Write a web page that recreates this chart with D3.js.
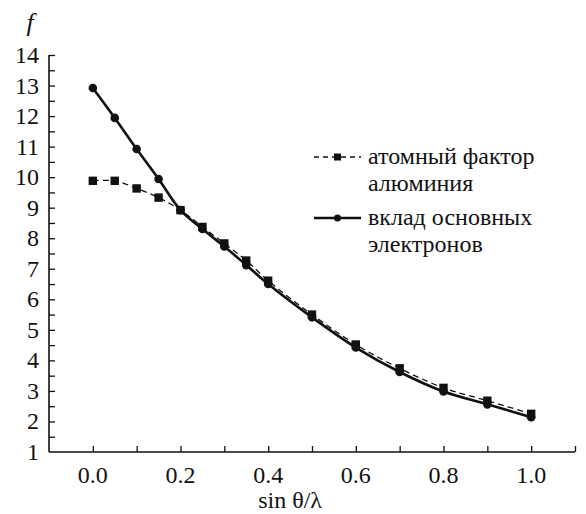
<!DOCTYPE html>
<html><head><meta charset="utf-8">
<script src="https://cdn.jsdelivr.net/npm/d3@7"></script>
<style>body{margin:0;background:#fff}svg{display:block}</style>
</head><body>
<script>
const xVals = [0, 0.05, 0.1, 0.15, 0.2, 0.25, 0.3, 0.35, 0.4, 0.5, 0.6, 0.7, 0.8, 0.9, 1.0];
const atomicFactor = [9.88, 9.88, 9.63, 9.33, 8.92, 8.37, 7.83, 7.27, 6.61, 5.50, 4.52, 3.74, 3.10, 2.68, 2.25];
const coreContribution = [12.92, 11.94, 10.92, 9.94, 8.92, 8.30, 7.73, 7.12, 6.50, 5.41, 4.42, 3.62, 2.98, 2.56, 2.14];
const xTickLabels = ["0.0", "0.2", "0.4", "0.6", "0.8", "1.0"];
const yTickLabels = ["1","2","3","4","5","6","7","8","9","10","11","12","13","14"];
const legendLabels = [["атомный фактор", "алюминия"], ["вклад основных", "электронов"]];
const xTitle = "sin θ/λ";
const yTitle = "f";

const FONT = "'Liberation Serif', 'Times New Roman', serif";
const W = 586, H = 514;
const svg = d3.select("body").append("svg").attr("width", W).attr("height", H)
  .style("font-family", FONT, "important");
const x = d3.scaleLinear().domain([-0.1, 1.1]).range([49, 575]);
const y = d3.scaleLinear().domain([1, 14]).range([452, 55]);

// axes
const xAxis = d3.axisBottom(x).tickValues(d3.range(0, 11.01, 1).map(v => v / 10))
  .tickSize(-6).tickFormat("");
const gx = svg.append("g").attr("transform", `translate(0,${y(1)})`).call(xAxis);
const yAxis = d3.axisLeft(y).tickValues(d3.range(3, 29, 1).map(v => v / 2)).tickSize(-6).tickFormat("");
const gy = svg.append("g").attr("transform", `translate(${x(-0.1)},0)`).call(yAxis);
[gx, gy].forEach(g => {
  g.select(".domain").attr("stroke", "#111").attr("stroke-width", 1.6);
  g.selectAll(".tick line").attr("stroke", "#111").attr("stroke-width", 1.3);
});
gx.select(".domain").attr("d", `M${x(-0.1)},0H${x(1.1)}`);
gy.select(".domain").attr("d", `M0,${y(14)}V${y(1)}`);

const T = sel => sel.style("font-family", FONT, "important").attr("font-family", FONT).attr("fill", "#111");

// tick labels
svg.append("g").selectAll("text").data(xTickLabels).join("text")
  .attr("x", d => x(+d)).attr("y", 483).attr("text-anchor", "middle")
  .attr("font-size", 24).call(T).text(d => d);
svg.append("g").selectAll("text").data(yTickLabels).join("text")
  .attr("x", 39).attr("y", d => y(+d) + 8).attr("text-anchor", "end")
  .attr("font-size", 24).call(T).text(d => d);

svg.append("text").attr("x", x(0.45)).attr("y", 508).attr("text-anchor", "middle")
  .attr("font-size", 24).call(T).text(xTitle);
svg.append("text").attr("x", 30).attr("y", 31).attr("text-anchor", "middle")
  .attr("font-size", 26).attr("font-style", "italic").call(T).text(yTitle);

// lines
const dataA = xVals.map((v, i) => [v, atomicFactor[i]]);
const dataC = xVals.map((v, i) => [v, coreContribution[i]]);
const line = d3.line().x(d => x(d[0])).y(d => y(d[1])).curve(d3.curveCatmullRom.alpha(0.5));

svg.append("path").datum(dataA).attr("d", line).attr("fill", "none")
  .attr("stroke", "#111").attr("stroke-width", 1.3).attr("stroke-dasharray", "6,4");
svg.append("path").datum(dataC).attr("d", line).attr("fill", "none")
  .attr("stroke", "#111").attr("stroke-width", 2.6);

svg.append("g").selectAll("rect").data(dataA).join("rect")
  .attr("x", d => x(d[0]) - 4.2).attr("y", d => y(d[1]) - 4.2).attr("width", 8.4).attr("height", 8.4)
  .attr("fill", "#111");
svg.append("g").selectAll("circle").data(dataC).join("circle")
  .attr("cx", d => x(d[0])).attr("cy", d => y(d[1])).attr("r", 4.3).attr("fill", "#111");

// legend
const lg = svg.append("g");
const lx0 = 314, lx1 = 361, tx = 368;
const rows = [157, 218];
lg.append("line").attr("x1", lx0).attr("x2", lx1).attr("y1", rows[0]).attr("y2", rows[0])
  .attr("stroke", "#111").attr("stroke-width", 1.3).attr("stroke-dasharray", "5,4");
lg.append("rect").attr("x", (lx0 + lx1) / 2 - 3.5).attr("y", rows[0] - 3.5).attr("width", 7).attr("height", 7).attr("fill", "#111");
lg.append("line").attr("x1", lx0).attr("x2", lx1).attr("y1", rows[1]).attr("y2", rows[1])
  .attr("stroke", "#111").attr("stroke-width", 2.6);
lg.append("circle").attr("cx", (lx0 + lx1) / 2).attr("cy", rows[1]).attr("r", 3.5).attr("fill", "#111");
legendLabels.forEach((lines, i) => {
  lines.forEach((t, j) => {
    lg.append("text").attr("x", tx).attr("y", rows[i] + 7 + j * 27)
      .attr("font-size", 24).call(T).text(t);
  });
});
</script>
</body></html>
